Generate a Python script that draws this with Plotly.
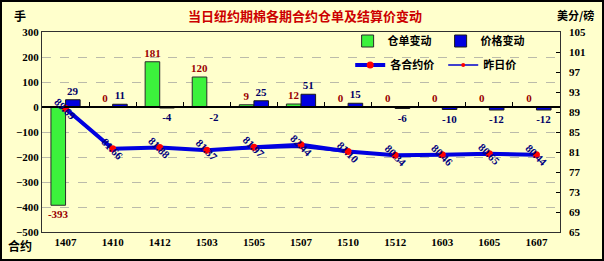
import plotly.graph_objects as go

contracts = ["1407", "1410", "1412", "1503", "1505", "1507", "1510", "1512", "1603", "1605", "1607"]
warrant_change = [-393, 0, 181, 120, 9, 12, 0, 0, 0, 0, 0]
price_change = [29, 11, -4, -2, 25, 51, 15, -6, -10, -12, -12]
settle_price = [89.69, 81.66, 81.88, 81.37, 81.97, 82.44, 81.10, 80.34, 80.46, 80.65, 80.44]
prev_price = [round(p - c / 100, 2) for p, c in zip(settle_price, price_change)]

W, H = 604, 261
ML, MR, MT, MB = 42, 44, 32, 29
font_main = "Liberation Serif, Noto Sans CJK SC, serif"
cjk = "Noto Sans CJK SC, sans-serif"

fig = go.Figure()

fig.add_trace(go.Bar(
    x=contracts, y=warrant_change, name="仓单变动",
    marker=dict(color="#3CF23C", line=dict(color="#2A2A2A", width=1)),
    text=[str(v) for v in warrant_change], textposition="outside",
    textfont=dict(color="#990000", size=11, family=font_main),
    constraintext="none", cliponaxis=False, legend="legend",
))
fig.add_trace(go.Bar(
    x=contracts, y=price_change, name="价格变动",
    marker=dict(color="#0000E0", line=dict(color="#1A1A1A", width=1)),
    text=[str(v) for v in price_change], textposition="outside",
    textfont=dict(color="#000066", size=11, family=font_main),
    constraintext="none", cliponaxis=False, legend="legend",
))
fig.add_trace(go.Scatter(
    x=contracts, y=prev_price, name="昨日价", xaxis="x2", yaxis="y2",
    mode="lines+markers", line=dict(color="#0000CC", width=1.5),
    marker=dict(color="#FF0000", size=4), legend="legend2", legendrank=2,
))
fig.add_trace(go.Scatter(
    x=contracts, y=settle_price, name="各合约价", xaxis="x2", yaxis="y2",
    mode="lines+markers", line=dict(color="#0000E0", width=4),
    marker=dict(color="#FF0000", size=7), legend="legend2", legendrank=1,
))

for i, (c, p) in enumerate(zip(contracts, settle_price)):
    fig.add_annotation(x=i, y=p, xref="x", yref="y2", text=f"<b>{p:.2f}</b>",
                       textangle=45, showarrow=False,
                       font=dict(color="#000080", size=11, family=font_main))

fig.update_layout(
    width=W, height=H,
    margin=dict(l=ML, r=MR, t=MT, b=MB),
    paper_bgcolor="#FFFFCC", plot_bgcolor="#FFFFCC",
    barmode="group", bargap=0.38, bargroupgap=0,
    font=dict(family=font_main, size=11, color="#000000", weight="bold"),
    title=dict(text="当日纽约期棉各期合约仓单及结算价变动", x=0.505, xanchor="center",
               y=1 - 16 / H, yanchor="middle",
               font=dict(family=cjk, size=13, color="#CC0000", weight="bold")),
    xaxis=dict(type="category", categoryorder="array", categoryarray=contracts,
               range=[-0.5, 10.5], showline=True, linecolor="#303030", linewidth=1,
               mirror=True, ticks="", showgrid=False,
               tickfont=dict(family=font_main, size=11, weight="bold")),
    xaxis2=dict(type="category", categoryorder="array", categoryarray=contracts,
                range=[-0.5, 10.5], overlaying="x", anchor="free", position=0.625,
                showticklabels=False, ticks="inside", ticklen=4, tickson="boundaries",
                tickcolor="#000000", showline=True, linecolor="#000000", linewidth=1.5,
                showgrid=False),
    yaxis=dict(range=[-500, 300], dtick=100, showline=True, linecolor="#303030",
               linewidth=1, mirror=True, showgrid=True, gridcolor="#BBBBAA",
               griddash="dash", gridwidth=1, zeroline=False, ticks="",
               tickfont=dict(family=font_main, size=11, weight="bold")),
    yaxis2=dict(range=[65, 105], dtick=4, tick0=65, overlaying="y", side="right",
                anchor="x2", showgrid=False, zeroline=False, ticks="inside",
                ticklen=4, tickcolor="#000000", showline=False, ticklabelstandoff=8,
                tickfont=dict(family=font_main, size=11, weight="bold")),
    legend=dict(orientation="h", x=0.59, y=0.955, xanchor="left", yanchor="middle",
                bgcolor="rgba(0,0,0,0)", entrywidth=48, itemwidth=30,
                font=dict(family=cjk, size=11, weight="bold")),
    legend2=dict(orientation="h", x=0.595, y=0.835, xanchor="left", yanchor="middle",
                 bgcolor="rgba(0,0,0,0)", entrywidth=48, itemwidth=30, traceorder="normal",
                 font=dict(family=cjk, size=11, weight="bold")),
    showlegend=True,
)

pw = W - ML - MR
ph = H - MT - MB
fig.add_annotation(xref="paper", yref="paper", x=-30 / pw, y=1 + 17 / ph, text="手",
                   showarrow=False, xanchor="left", yanchor="middle",
                   font=dict(family=cjk, size=12, weight="bold"))
fig.add_annotation(xref="paper", yref="paper", x=-36 / pw, y=-13 / ph, text="合约",
                   showarrow=False, xanchor="left", yanchor="middle",
                   font=dict(family=cjk, size=12, weight="bold"))
fig.add_annotation(xref="paper", yref="paper", x=1 + 36 / pw, y=1 + 17 / ph, text="美分/磅",
                   showarrow=False, xanchor="right", yanchor="middle",
                   font=dict(family=cjk, size=11, weight="bold"))
fig.add_shape(type="rect", xref="paper", yref="paper",
              x0=-(ML - 1) / pw, x1=1 + (MR - 1) / pw, y0=-(MB - 1) / ph, y1=1 + (MT - 1) / ph,
              line=dict(color="#000000", width=2), layer="above")

fig.write_html("out.html")
